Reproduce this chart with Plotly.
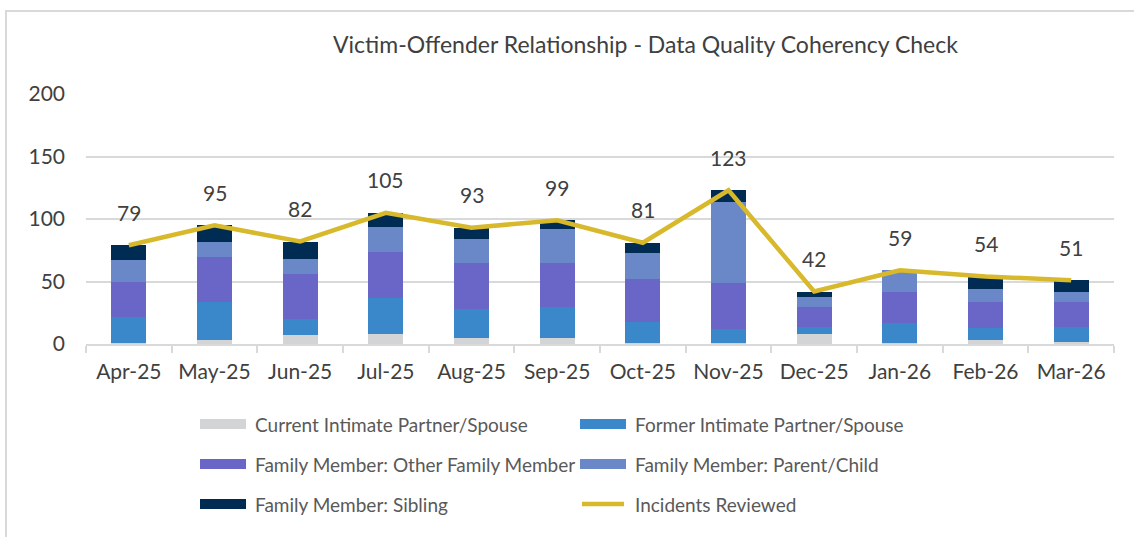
import plotly.graph_objects as go

months = ["Apr-25", "May-25", "Jun-25", "Jul-25", "Aug-25", "Sep-25",
          "Oct-25", "Nov-25", "Dec-25", "Jan-26", "Feb-26", "Mar-26"]
current_partner = [1, 3, 7, 8, 5, 5, 1, 1, 8, 1, 3, 2]
former_partner = [21, 31, 13, 29, 23, 25, 17, 11, 6, 16, 10, 12]
other_family = [28, 36, 36, 37, 37, 35, 34, 37, 16, 25, 21, 20]
parent_child = [17, 12, 12, 20, 19, 27, 21, 65, 8, 17, 10, 8]
sibling = [12, 13, 14, 11, 9, 7, 8, 9, 4, 0, 10, 9]
incidents = [79, 95, 82, 105, 93, 99, 81, 123, 42, 59, 54, 51]

y_ticks = [0, 50, 100, 150, 200]

series_names = ["Current Intimate Partner/Spouse", "Former Intimate Partner/Spouse",
                "Family Member: Other Family Member", "Family Member: Parent/Child",
                "Family Member: Sibling", "Incidents Reviewed"]
series_colors = ["#D3D4D6", "#3A87C9", "#6A66C8", "#6A87C8", "#002B52", "#D8B92B"]

FONT = "Lato"
W, H = 1134, 537
L, R, T, B = 86, 20, 94, 193
PW, PH = W - L - R, H - T - B

def px_x(p):
    return (p - L) / PW

def px_y(p):
    return (H - B - p) / PH

fig = go.Figure()
for name, vals, col in zip(series_names[:5],
                           [current_partner, former_partner, other_family, parent_child, sibling],
                           series_colors[:5]):
    fig.add_trace(go.Bar(x=months, y=vals, name=name, marker=dict(color=col, line=dict(width=0)),
                         showlegend=False))

fig.add_trace(go.Scatter(x=months, y=incidents, mode="lines", name=series_names[5],
                         line=dict(color=series_colors[5], width=4.5), showlegend=False))

annotations = []
for m, v in zip(months, incidents):
    annotations.append(dict(x=m, y=v, xref="x", yref="y", text=str(v), showarrow=False,
                            yshift=33, font=dict(family=FONT, size=21, color="#404040")))

annotations.append(dict(x=px_x(645), y=px_y(44), xref="paper", yref="paper",
                        text="Victim-Offender Relationship - Data Quality Coherency Check",
                        showarrow=False, xanchor="center", yanchor="middle",
                        font=dict(family=FONT, size=23, color="#404040")))

shapes = []
# outer chart border (extends past window on right/bottom)
shapes.append(dict(type="rect", xref="paper", yref="paper",
                   x0=px_x(6), x1=px_x(1150), y0=px_y(560), y1=px_y(11),
                   line=dict(color="#D9D9D9", width=2), fillcolor="rgba(0,0,0,0)", layer="below"))

# custom legend
leg_pos = [(200, 424), (580, 424), (200, 464), (580, 464), (200, 504), (580, 504)]
for i, (name, col) in enumerate(zip(series_names, series_colors)):
    sx, sy = leg_pos[i]
    if i < 5:
        shapes.append(dict(type="rect", xref="paper", yref="paper",
                           x0=px_x(sx), x1=px_x(sx + 46), y0=px_y(sy + 5), y1=px_y(sy - 5),
                           fillcolor=col, line=dict(width=0)))
    else:
        shapes.append(dict(type="line", xref="paper", yref="paper",
                           x0=px_x(sx + 2), x1=px_x(sx + 44), y0=px_y(sy), y1=px_y(sy),
                           line=dict(color=col, width=4.5)))
    annotations.append(dict(x=px_x(sx + 53), y=px_y(sy), xref="paper", yref="paper",
                            text=name, showarrow=False, xanchor="left", yanchor="middle",
                            font=dict(family=FONT, size=19, color="#595959")))

fig.update_layout(
    width=W, height=H,
    margin=dict(l=L, r=R, t=T, b=B, autoexpand=False),
    barmode="stack", bargap=0.59,
    plot_bgcolor="white", paper_bgcolor="white",
    showlegend=False,
    annotations=annotations, shapes=shapes,
    font=dict(family=FONT, color="#595959"),
)
fig.update_xaxes(type="category", categoryorder="array", categoryarray=months,
                 showline=True, linecolor="#D9D9D9", linewidth=2,
                 ticks="outside", tickson="boundaries", ticklen=7, tickcolor="#D9D9D9", tickwidth=2,
                 ticklabelstandoff=8,
                 tickfont=dict(family=FONT, size=21, color="#404040"), showgrid=False)
fig.update_yaxes(range=[0, 200], tickvals=y_ticks, showgrid=True, gridcolor="#D9D9D9", gridwidth=1.5,
                 zeroline=False, showline=False, ticks="", ticklabelstandoff=20,
                 tickfont=dict(family=FONT, size=21, color="#404040"))

fig.write_html("out.html", config={"displayModeBar": False},
               post_script="document.body.style.margin='0';")
